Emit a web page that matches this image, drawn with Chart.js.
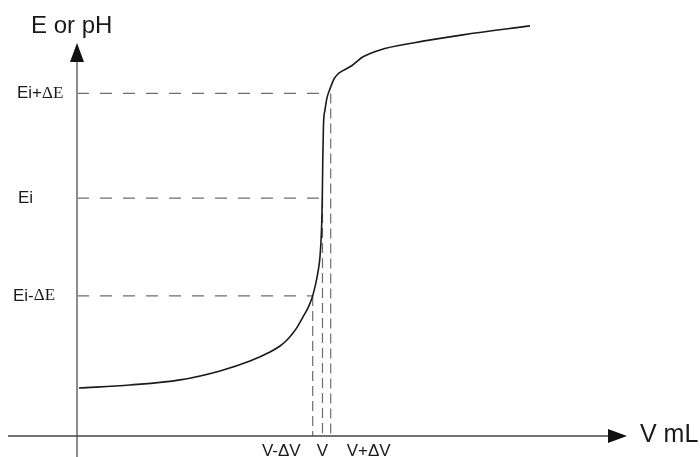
<!DOCTYPE html>
<html>
<head>
<meta charset="utf-8">
<script src="https://cdn.jsdelivr.net/npm/chart.js@4"></script>
<style>
  body { margin: 0; background: #fff; }
  #wrap { width: 700px; height: 457px; }
</style>
</head>
<body>
<div id="wrap"><canvas id="titration"></canvas></div>
<script>
  // титрование: объём (мл) и потенциал/pH
  const volume = [0.29, 7.57, 14.71, 20.43, 24.71, 27.57, 29.0, 30.0, 30.86, 31.57, 32.29, 33.0,
    33.57, 34.0, 34.43, 34.71, 34.93, 35.04, 35.11, 35.21, 35.43, 35.71, 36.14, 36.71, 37.29,
    38.0, 39.29, 40.86, 43.29, 48.0, 55.14, 64.71];
  const potential = [1.60, 1.70, 1.87, 2.17, 2.50, 2.80, 3.00, 3.20, 3.43, 3.67, 3.97, 4.27,
    4.60, 4.97, 5.47, 5.97, 6.87, 7.93, 9.20, 10.37, 10.87, 11.27, 11.57, 11.90, 12.07,
    12.18, 12.35, 12.64, 12.87, 13.10, 13.37, 13.67];

  // отметки
  const eLabels = ["Ei-\u0394E", "Ei", "Ei+\u0394E"];
  const eLevels = [4.67, 7.93, 11.42];
  const eGuideEnd = [33.71, 34.57, 35.57];
  const vLabels = ["V-\u0394V", "V", "V+\u0394V"];
  const vLevels = [33.67, 35.07, 36.24];

  const guides = [];
  eLevels.forEach((e, i) => {
    guides.push({
      data: [{ x: 0, y: e }, { x: eGuideEnd[i], y: e }],
      borderDash: [12, 11]
    });
    guides.push({
      data: [{ x: vLevels[i], y: e }, { x: vLevels[i], y: 0 }],
      borderDash: [10, 5]
    });
  });

  const SANS = "'Liberation Sans', Arial, sans-serif";
  const SERIF = "'Liberation Serif', 'Times New Roman', serif";

  // оси, стрелки и подписи
  const axesPlugin = {
    id: "axesPlugin",
    afterDatasetsDraw(chart) {
      const ctx = chart.ctx;
      const xs = chart.scales.x, ys = chart.scales.y;
      const x0 = xs.getPixelForValue(0), y0 = ys.getPixelForValue(0);
      ctx.save();

      // ось Y
      ctx.strokeStyle = "#8c8c8c";
      ctx.lineWidth = 2;
      ctx.beginPath();
      ctx.moveTo(x0, chart.height);
      ctx.lineTo(x0, 60);
      ctx.stroke();
      ctx.fillStyle = "#111";
      ctx.beginPath();
      ctx.moveTo(x0, 43);
      ctx.lineTo(x0 - 7, 62);
      ctx.lineTo(x0 + 7, 62);
      ctx.closePath();
      ctx.fill();

      // ось X
      ctx.strokeStyle = "#444";
      ctx.lineWidth = 1.5;
      ctx.beginPath();
      ctx.moveTo(8, y0);
      ctx.lineTo(610, y0);
      ctx.stroke();
      ctx.beginPath();
      ctx.moveTo(627, y0);
      ctx.lineTo(608, y0 - 7);
      ctx.lineTo(608, y0 + 7);
      ctx.closePath();
      ctx.fill();

      ctx.fillStyle = "#1a1a1a";
      ctx.textBaseline = "alphabetic";
      ctx.font = "24px " + SANS;
      ctx.textAlign = "left";
      ctx.fillText("E or pH", 31, 33);
      ctx.font = "25px " + SANS;
      ctx.fillText("V mL", 640, 442);

      // подписи уровней E (Δ и E — шрифт с засечками)
      const eLeft = [13, 18, 17];
      ctx.textBaseline = "middle";
      eLabels.forEach((t, i) => {
        const py = ys.getPixelForValue(eLevels[i]);
        const k = t.indexOf("\u0394");
        let x = eLeft[i];
        const head = k < 0 ? t : t.slice(0, k);
        ctx.font = "17px " + SANS;
        ctx.fillText(head, x, py);
        if (k >= 0) {
          x += ctx.measureText(head).width;
          ctx.font = "17px " + SERIF;
          ctx.fillText(t.slice(k), x, py);
        }
      });

      // подписи объёмов
      ctx.font = "17px " + SANS;
      ctx.textBaseline = "alphabetic";
      const aligns = ["right", "center", "left"];
      const shift = [-12, 0, 16];
      vLabels.forEach((t, i) => {
        ctx.textAlign = aligns[i];
        ctx.fillText(t, xs.getPixelForValue(vLevels[i]) + shift[i], 456);
      });
      ctx.restore();
    }
  };

  new Chart(document.getElementById("titration"), {
    type: "scatter",
    data: {
      datasets: [
        {
          data: volume.map((v, i) => ({ x: v, y: potential[i] })),
          showLine: true,
          borderColor: "#1a1a1a",
          borderWidth: 1.6,
          pointRadius: 0,
          cubicInterpolationMode: "monotone"
        },
        ...guides.map(g => ({
          data: g.data,
          showLine: true,
          borderColor: "#6e6e6e",
          borderWidth: 1.2,
          borderDash: g.borderDash,
          pointRadius: 0
        }))
      ]
    },
    options: {
      responsive: true,
      maintainAspectRatio: false,
      animation: false,
      layout: { padding: 0 },
      plugins: { legend: { display: false }, tooltip: { enabled: false } },
      scales: {
        x: { type: "linear", min: -11, max: 89, display: false },
        y: { type: "linear", min: -0.7, max: 14.5333, display: false }
      }
    },
    plugins: [axesPlugin]
  });
</script>
</body>
</html>
